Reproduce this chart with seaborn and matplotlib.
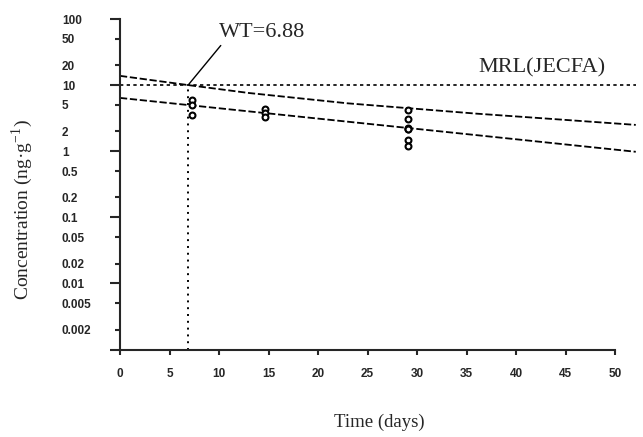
import numpy as np
import pandas as pd
import matplotlib
matplotlib.use('Agg')
import matplotlib.pyplot as plt
import seaborn as sns
from matplotlib.ticker import FixedLocator, FixedFormatter

# Residue measurements (ng/g) per sampling day
sample_days = [7.3, 7.3, 7.3, 14.6, 14.6, 14.6, 29.1, 29.1, 29.1, 29.1, 29.1, 29.1, 29.1]
sample_conc = [5.9, 5.0, 3.5, 4.4, 3.8, 3.3, 4.2, 3.1, 2.25, 2.2, 2.15, 1.5, 1.2]

# Regression line and upper tolerance limit
mean_days = [0, 52.1]
mean_conc = [6.4, 0.98]
upper_days = [0, 6.9, 13, 23, 36, 42, 52.1]
upper_conc = [13.8, 10.0, 7.6, 5.3, 3.7, 3.2, 2.5]

mrl = 10
wt = 6.88

major_y = [0.001, 0.01, 0.1, 1, 10, 100]
major_y_labels = ['', '0.01', '0.1', '1', '10', '100']
minor_y = [0.002, 0.005, 0.02, 0.05, 0.2, 0.5, 2, 5, 20, 50]
minor_y_labels = ['0.002', '0.005', '0.02', '0.05', '0.2', '0.5', '2', '5', '20', '50']
x_ticks = [0, 5, 10, 15, 20, 25, 30, 35, 40, 45, 50]

sns.set_style('ticks')
plt.rcParams['font.family'] = ['Liberation Sans', 'DejaVu Sans']
plt.rcParams['mathtext.fontset'] = 'stix'

fig = plt.figure(figsize=(6.43, 4.37), dpi=100)
ax = fig.add_axes([120/643, 1 - 349.5/437, 495/643, 330.5/437])

df_samples = pd.DataFrame({'day': sample_days, 'conc': sample_conc})
df_mean = pd.DataFrame({'day': mean_days, 'conc': mean_conc})
df_upper = pd.DataFrame({'day': upper_days, 'conc': upper_conc})

sns.lineplot(data=df_upper, x='day', y='conc', ax=ax, color='black', lw=1.3,
             linestyle=(0, (4, 1.5)), clip_on=False)
sns.lineplot(data=df_mean, x='day', y='conc', ax=ax, color='black', lw=1.3,
             linestyle=(0, (4, 1.5)), clip_on=False)
sns.scatterplot(data=df_samples, x='day', y='conc', ax=ax, marker='o', s=18,
                facecolor='white', edgecolor='black', linewidth=1.5, zorder=5)

# MRL and withdrawal time
ax.plot([0, 52.1], [mrl, mrl], color='black', lw=1.2, linestyle=(0, (2, 2)), clip_on=False)
ax.plot([wt, wt], [0.001, mrl], color='black', lw=1.4, linestyle=(0, (1, 2.5)))
ax.text(49, 18.2, 'MRL(JECFA)', ha='right', va='center', fontsize=16, family='Liberation Serif')
ax.annotate('WT=6.88', xy=(wt, mrl), xytext=(10.0, 62), ha='left', va='center',
            fontsize=16, family='Liberation Serif',
            arrowprops=dict(arrowstyle='-', color='black', lw=1, relpos=(0.07, 0.1),
                            shrinkA=0, shrinkB=0))

ax.set_yscale('log')
ax.set_ylim(0.001, 100)
ax.set_xlim(0, 50)
ax.yaxis.set_major_locator(FixedLocator(major_y))
ax.yaxis.set_major_formatter(FixedFormatter(major_y_labels))
ax.yaxis.set_minor_locator(FixedLocator(minor_y))
ax.yaxis.set_minor_formatter(FixedFormatter(minor_y_labels))
ax.set_xticks(x_ticks)
ax.set_xticklabels([str(v) for v in x_ticks])

ax.tick_params(axis='y', which='major', length=7.2, width=1.5, pad=34.6, labelsize=8.5)
ax.tick_params(axis='y', which='minor', length=3.6, width=1.5, pad=38.2, labelsize=8.5)
ax.tick_params(axis='x', which='major', length=3.6, width=1.5, pad=10, labelsize=8.5)
for lab in ax.get_yticklabels(which='both'):
    lab.set_ha('left')
    lab.set_fontweight('bold')
for lab in ax.get_xticklabels():
    lab.set_fontweight('bold')

sns.despine(ax=ax)
for side in ['left', 'bottom']:
    ax.spines[side].set_linewidth(1.5)
ax.set_xlabel('')
ax.set_ylabel('')

fig.text(379/643, 1 - 422/437, 'Time (days)', ha='center', va='center',
         fontsize=13.5, family='Liberation Serif')
fig.text(22/643, 1 - 209/437, 'Concentration (ng\u00b7g$^{\\mathregular{-1}}$)', rotation=90,
         ha='center', va='center', fontsize=14, family='Liberation Serif')

fig.savefig('out.png', dpi=100)
